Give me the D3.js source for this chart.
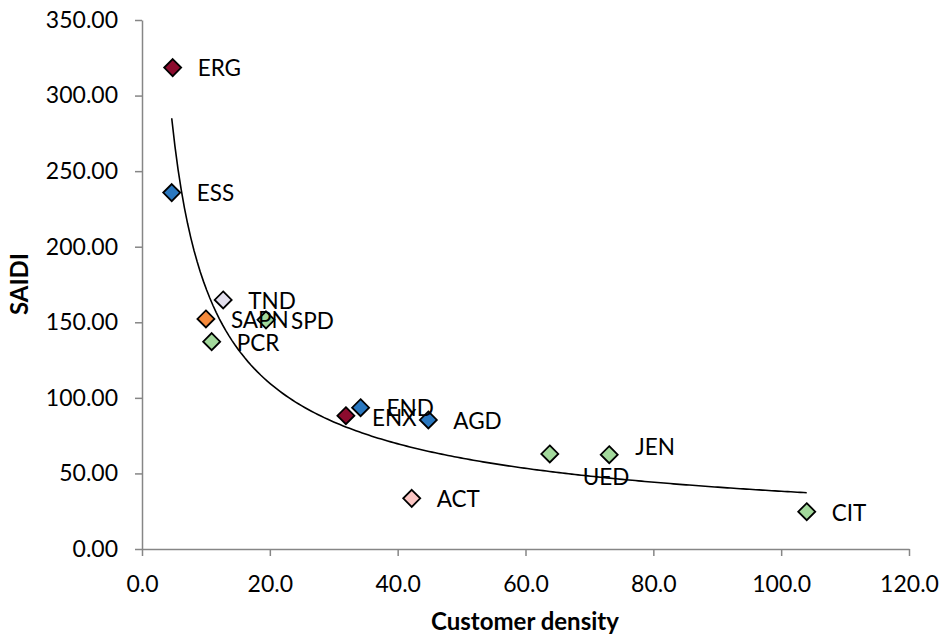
<!DOCTYPE html>
<html>
<head>
<meta charset="utf-8">
<script src="https://cdn.jsdelivr.net/npm/d3@7"></script>
<style>
  html, body { margin: 0; padding: 0; background: #fff; }
  svg { display: block; }
  text { font-family: Lato, "Open Sans", sans-serif; fill: #000; }
</style>
</head>
<body>
<svg id="chart" width="944" height="639"></svg>
<script>
// ---- data ----
const names   = ["ERG","ESS","TND","SAPN","SPD","PCR","ENX","END","AGD","ACT","UED","JEN","CIT"];
const density = [4.8, 4.65, 12.7, 10.0, 19.4, 10.9, 31.9, 34.2, 44.8, 42.2, 63.8, 73.1, 104.0];
const saidi   = [318.5, 235.8, 164.8, 152.2, 151.6, 137.2, 88.2, 93.5, 85.4, 33.5, 62.9, 62.4, 24.7];
const xTicks  = [0, 20, 40, 60, 80, 100, 120];
const yTicks  = [0, 50, 100, 150, 200, 250, 300, 350];

// ---- styles ----
const fillOf = {
  ERG: "#8c0b2e", ENX: "#8c0b2e",
  ESS: "#2a78c0", END: "#2a78c0", AGD: "#2a78c0",
  TND: "#e3dfee",
  SAPN: "#f58a3c",
  SPD: "#a3d99c", PCR: "#a3d99c", UED: "#a3d99c", JEN: "#a3d99c", CIT: "#a3d99c",
  ACT: "#fbc6c4"
};
const labelShift = { UED: [33, 23], JEN: [26, -8], ENX: [26, 2], END: [26, 0] };

const svg = d3.select("#chart");
const x = d3.scaleLinear().domain([0, 120]).range([142, 909]);
const y = d3.scaleLinear().domain([0, 350]).range([549, 20]);
const axisColor = "#868686";

// y axis
const gy = svg.append("g").attr("transform", "translate(142,0)")
  .call(d3.axisLeft(y).tickValues(yTicks).tickFormat(d3.format(".2f"))
        .tickSize(7).tickSizeOuter(0).tickPadding(17));
// x axis
const gx = svg.append("g").attr("transform", "translate(0,549)")
  .call(d3.axisBottom(x).tickValues(xTicks).tickFormat(d3.format(".1f"))
        .tickSize(7).tickSizeOuter(0).tickPadding(20));
[gx, gy].forEach(g => {
  g.select(".domain").attr("stroke", axisColor).attr("stroke-width", 1.5);
  g.selectAll(".tick line").attr("stroke", axisColor).attr("stroke-width", 1.5);
  g.selectAll(".tick text").attr("font-family", "Lato, 'Open Sans', sans-serif")
    .attr("font-size", 23).attr("fill", "#000");
});

// axis titles
svg.append("text").attr("x", 525).attr("y", 630).attr("text-anchor", "middle")
  .attr("font-size", 24).attr("font-weight", "bold").text("Customer density");
svg.append("text").attr("transform", "translate(28,284) rotate(-90)")
  .attr("text-anchor", "middle").attr("font-size", 24).attr("font-weight", "bold").text("SAIDI");

// power trendline fitted to the data (least squares in log-log space)
const lx = density.map(Math.log), ly = saidi.map(Math.log);
const mx = d3.mean(lx), my = d3.mean(ly);
const b = d3.sum(lx.map((v, i) => (v - mx) * (ly[i] - my))) / d3.sum(lx.map(v => (v - mx) ** 2));
const a = Math.exp(my - b * mx);
const [x0, x1] = d3.extent(density);
const trend = d3.range(0, 201).map(i => { const xv = x0 + (x1 - x0) * i / 200; return [xv, a * Math.pow(xv, b)]; });
svg.append("path").datum(trend)
  .attr("d", d3.line().x(d => x(d[0])).y(d => y(d[1])))
  .attr("fill", "none").attr("stroke", "#000").attr("stroke-width", 1.6);

// points
const pts = names.map((n, i) => ({ n, xv: density[i], yv: saidi[i] }));
const r = 8.5;
svg.append("g").selectAll("path").data(pts).join("path")
  .attr("transform", d => `translate(${x(d.xv)},${y(d.yv)})`)
  .attr("d", `M0,${-r}L${r},0L0,${r}L${-r},0Z`)
  .attr("fill", d => fillOf[d.n]).attr("stroke", "#000").attr("stroke-width", 1.8);

// labels
svg.append("g").selectAll("text").data(pts).join("text")
  .attr("x", d => x(d.xv) + (labelShift[d.n] ? labelShift[d.n][0] : 25))
  .attr("y", d => y(d.yv) + (labelShift[d.n] ? labelShift[d.n][1] : 1))
  .attr("dy", "0.35em").attr("font-size", 22.5).text(d => d.n);
</script>
</body>
</html>
